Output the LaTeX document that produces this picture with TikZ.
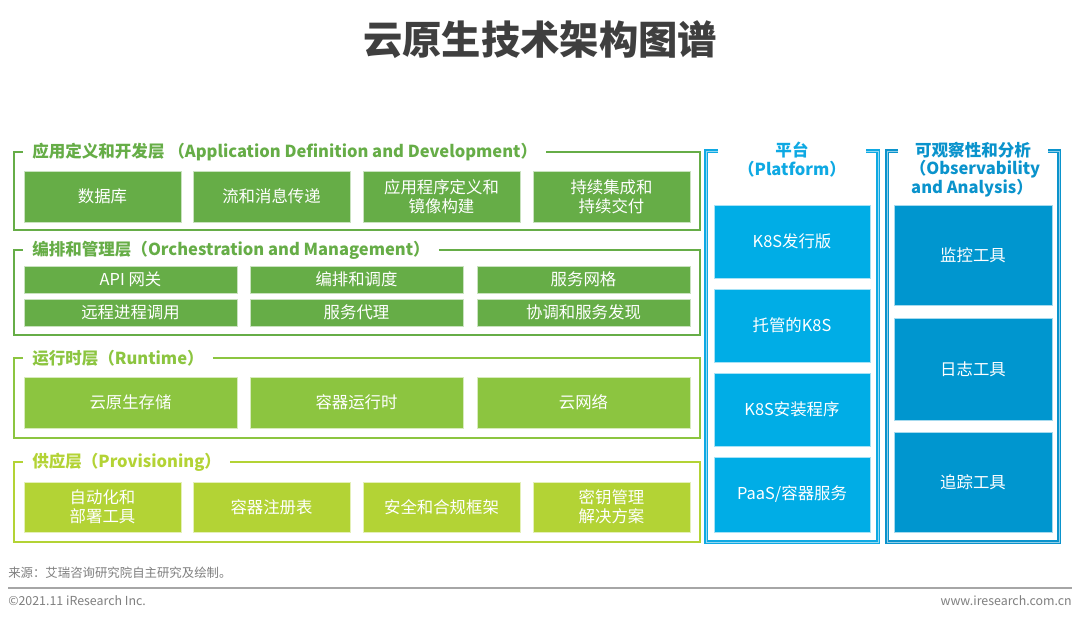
\documentclass[tikz,border=0pt]{standalone}
\usepackage{fontspec}
\setmainfont{Noto Sans CJK SC}
\usetikzlibrary{calc}
\definecolor{gA}{HTML}{66AD47}
\definecolor{gC}{HTML}{8CC540}
\definecolor{gD}{HTML}{B3D335}
\definecolor{bP}{HTML}{00ADE6}
\definecolor{bO}{HTML}{0096CF}
\definecolor{fP}{HTML}{0EA9E3}
\definecolor{fO}{HTML}{0A93CC}
\definecolor{ttl}{HTML}{3F3F3F}
\definecolor{ftr}{HTML}{7F7F7F}
\definecolor{rule}{HTML}{A6A6A6}
\begin{document}
\begin{tikzpicture}[x=0.75pt,y=-0.75pt,
  cell/.style={rectangle, anchor=north west, inner sep=0pt, outer sep=0pt, text=white, align=center,
    font=\fontsize{12.3}{14.5}\selectfont, draw=white!65!#1, fill=#1, line width=0.4pt},
  w/.style={minimum width=#1*0.75pt},
  h/.style={minimum height=#1*0.75pt},
  hdr/.style={anchor=west, inner sep=0pt, text=#1, font=\fontsize{12.4}{14}\selectfont\bfseries},
  chdr/.style={inner sep=0pt, text=#1, font=\fontsize{12.4}{14}\selectfont\bfseries},
  gframe/.style={draw=#1, line width=1.9pt},
  bframe/.style={draw=#1, line width=0.95pt, double=white!55!#1, double distance=0.5pt},
  foot/.style={inner sep=0pt, text=ftr, font=\fontsize{9.3}{11}\selectfont},
]
\useasboundingbox[fill=white] (0,0) rectangle (1080,622);

% title
\node[inner sep=0pt, text=ttl, font=\fontsize{29.5}{34}\selectfont\bfseries] (title) at (540,40) {云原生技术架构图谱};

% ---------- layer 1 ----------
\node[hdr=gA] (h1) at (32,152) {应用定义和开发层 （Application Definition and Development）};
\draw[gframe=gA] ($(h1.east)+(9,0)$) -| (700,230) -| (14,152) -- ($(h1.west)+(-9,0)$);
\node[cell=gA, w=157, h=51] (a1) at (24,171) {数据库};
\node[cell=gA, w=157, h=51] (a2) at (193,171) {流和消息传递};
\node[cell=gA, w=157, h=51] (a3) at (363,171) {应用程序定义和\\镜像构建};
\node[cell=gA, w=157, h=51] (a4) at (533,171) {持续集成和\\持续交付};

% ---------- layer 2 ----------
\node[hdr=gA] (h2) at (32,250) {编排和管理层（Orchestration and Management）};
\draw[gframe=gA] ($(h2.east)+(9,0)$) -| (700,335) -| (14,250) -- ($(h2.west)+(-9,0)$);
\node[cell=gA, w=213, h=27] (b1) at (24,266) {API 网关};
\node[cell=gA, w=213, h=27] (b2) at (250,266) {编排和调度};
\node[cell=gA, w=213, h=27] (b3) at (477,266) {服务网格};
\node[cell=gA, w=213, h=27] (b4) at (24,299) {远程进程调用};
\node[cell=gA, w=213, h=27] (b5) at (250,299) {服务代理};
\node[cell=gA, w=213, h=27] (b6) at (477,299) {协调和服务发现};

% ---------- layer 3 ----------
\node[hdr=gC] (h3) at (32,358) {运行时层（Runtime）};
\draw[gframe=gC] ($(h3.east)+(9,0)$) -| (700,438) -| (14,358) -- ($(h3.west)+(-9,0)$);
\node[cell=gC, w=213, h=51] (c1) at (24,377) {云原生存储};
\node[cell=gC, w=213, h=51] (c2) at (250,377) {容器运行时};
\node[cell=gC, w=213, h=51] (c3) at (477,377) {云网络};

% ---------- layer 4 ----------
\node[hdr=gD] (h4) at (32,462) {供应层（Provisioning）};
\draw[gframe=gD] ($(h4.east)+(9,0)$) -| (700,542) -| (14,462) -- ($(h4.west)+(-9,0)$);
\node[cell=gD, w=157, h=50] (d1) at (24,482) {自动化和\\部署工具};
\node[cell=gD, w=157, h=50] (d2) at (193,482) {容器注册表};
\node[cell=gD, w=157, h=50] (d3) at (363,482) {安全和合规框架};
\node[cell=gD, w=157, h=50] (d4) at (533,482) {密钥管理\\解决方案};

% ---------- platform ----------
\node[chdr=fP] (p1) at (792,150) {平台};
\node[chdr=fP] (p2) at (792,169) {（Platform）};
\draw[bframe=fP] (718,151) -- (706,151) -- (706,542) -- (878,542) -- (878,151) -- (866,151);
\node[cell=bP, w=156, h=73] (e1) at (714,205) {K8S发行版};
\node[cell=bP, w=156, h=73] (e2) at (714,289) {托管的K8S};
\node[cell=bP, w=156, h=73] (e3) at (714,373) {K8S安装程序};
\node[cell=bP, w=156, h=75] (e4) at (714,457) {PaaS/容器服务};

% ---------- observability ----------
\node[chdr=fO] (o1) at (973,150) {可观察性和分析};
\node[chdr=fO] (o2) at (975,169) {（Observability};
\node[chdr=fO] (o3) at (972,188) {and Analysis）};
\draw[bframe=fO] (898,151) -- (887,151) -- (887,542) -- (1059,542) -- (1059,151) -- (1048,151);
\node[cell=bO, w=158, h=100] (f1) at (894,205) {监控工具};
\node[cell=bO, w=158, h=102] (f2) at (894,318) {日志工具};
\node[cell=bO, w=158, h=100] (f3) at (894,432) {追踪工具};

% ---------- footer ----------
\node[foot, anchor=west] (src) at (8,573) {来源：艾瑞咨询研究院自主研究及绘制。};
\draw[draw=rule, line width=1.1pt] (8,588) -- (1072,588);
\node[foot, anchor=west] (copy) at (8,601) {©2021.11 iResearch Inc.};
\node[foot, anchor=east] (web) at (1072,601) {www.iresearch.com.cn};
\end{tikzpicture}
\end{document}
